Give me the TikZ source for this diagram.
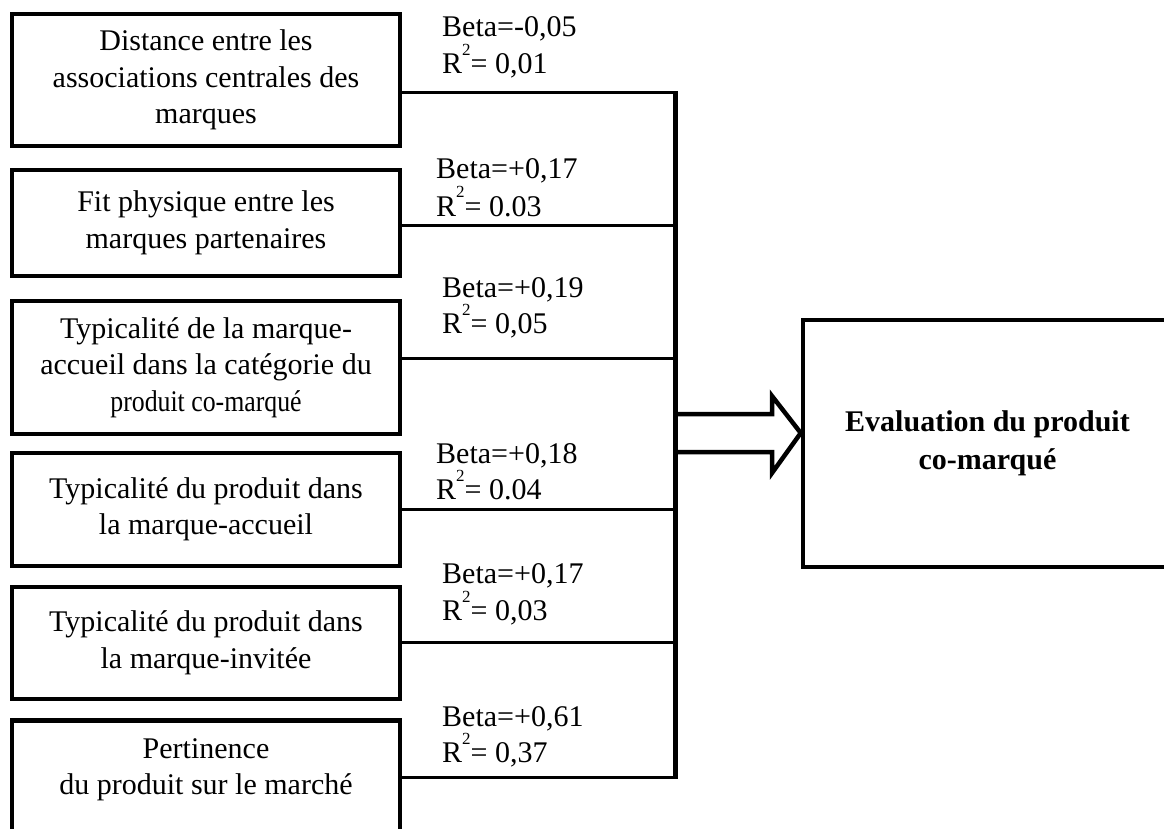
\documentclass[tikz,border=0pt]{standalone}
\usepackage{fontspec}
\setmainfont{Liberation Serif}
\newcommand{\rsq}{R\raisebox{18pt}{\fontsize{17}{17}\selectfont 2}}
\begin{document}
\begin{tikzpicture}[x=1pt,y=1pt,
  box/.style={draw, line width=4.5pt, minimum width=388pt, inner sep=0pt, align=center,
    font=\fontsize{30}{36.5}\selectfont},
  btext/.style={inner sep=0pt, align=center, font=\fontsize{30}{36.5}\selectfont},
  lab/.style={inner sep=0pt, anchor=base west, font=\fontsize{30}{36}\selectfont},
  conn/.style={line width=3pt},
  bus/.style={line width=5pt},
  blockarrow/.style={line width=4.5pt, line join=miter}]
\useasboundingbox (0,0) rectangle (1164,-829);

% input boxes
\node[box, minimum height=132pt] (b1) at (206,-80)
  {Distance entre les\\associations centrales des\\marques};
\node[box, minimum height=106pt] (b2) at (206,-223)
  {Fit physique entre les\\marques partenaires};
\node[box, minimum height=133pt] (b3) at (206,-367.5)
  {Typicalité de la marque-\\accueil dans la catégorie du\\\scalebox{0.86}[1]{produit co-marqué}};
\node[box, minimum height=113pt] (b4) at (206,-509.5)
  {Typicalité du produit dans\\la marque-accueil};
\node[box, minimum height=112pt] (b5) at (206,-643)
  {Typicalité du produit dans\\la marque-invitée};
\node[box, minimum height=142pt, anchor=north] (b6) at (206,-718) {};
\node[btext] (t6) at (206,-770) {Pertinence\\du produit sur le marché};

% output box
\node[box, minimum width=369pt, minimum height=247pt, font=\bfseries\fontsize{30}{38}\selectfont]
  (ev) at (987.5,-443.5) {Evaluation du produit\\co-marqué};

% bus junctions
\coordinate (j1) at (675,-93);
\coordinate (j2) at (675,-225);
\coordinate (j3) at (675,-358);
\coordinate (j4) at (675,-509);
\coordinate (j5) at (675,-642);
\coordinate (j6) at (675,-777);

\draw[conn] (b1.east |- j1) -- (j1);
\draw[conn] (b2.east |- j2) -- (j2);
\draw[conn] (b3.east |- j3) -- (j3);
\draw[conn] (b4.east |- j4) -- (j4);
\draw[conn] (b5.east |- j5) -- (j5);
\draw[conn] (b6.east |- j6) -- (j6);
\draw[bus] ([yshift=1.5pt]j1) -- ([yshift=-1.5pt]j6);

% block arrow
\coordinate (tip) at (ev.west |- 0,-433);
\coordinate (s1) at (675,-414);
\coordinate (s2) at (675,-452);
\draw[blockarrow] (s1) -- (772,-414) -- (772,-396) -- (tip) -- (772,-473) -- (772,-452) -- (s2);

% labels
\node[lab] (be1) at (442,-37) {Beta=-0,05};
\node[lab] (r1) at (442,-74) {\rsq= 0,01};
\node[lab] (be2) at (436,-179) {Beta=+0,17};
\node[lab] (r2) at (436,-216) {\rsq= 0.03};
\node[lab] (be3) at (442,-297) {Beta=+0,19};
\node[lab] (r3) at (442,-333) {\rsq= 0,05};
\node[lab] (be4) at (436,-463) {Beta=+0,18};
\node[lab] (r4) at (436,-499) {\rsq= 0.04};
\node[lab] (be5) at (442,-583) {Beta=+0,17};
\node[lab] (r5) at (442,-620) {\rsq= 0,03};
\node[lab] (be6) at (442,-726) {Beta=+0,61};
\node[lab] (r6) at (442,-762) {\rsq= 0,37};
\end{tikzpicture}
\end{document}
